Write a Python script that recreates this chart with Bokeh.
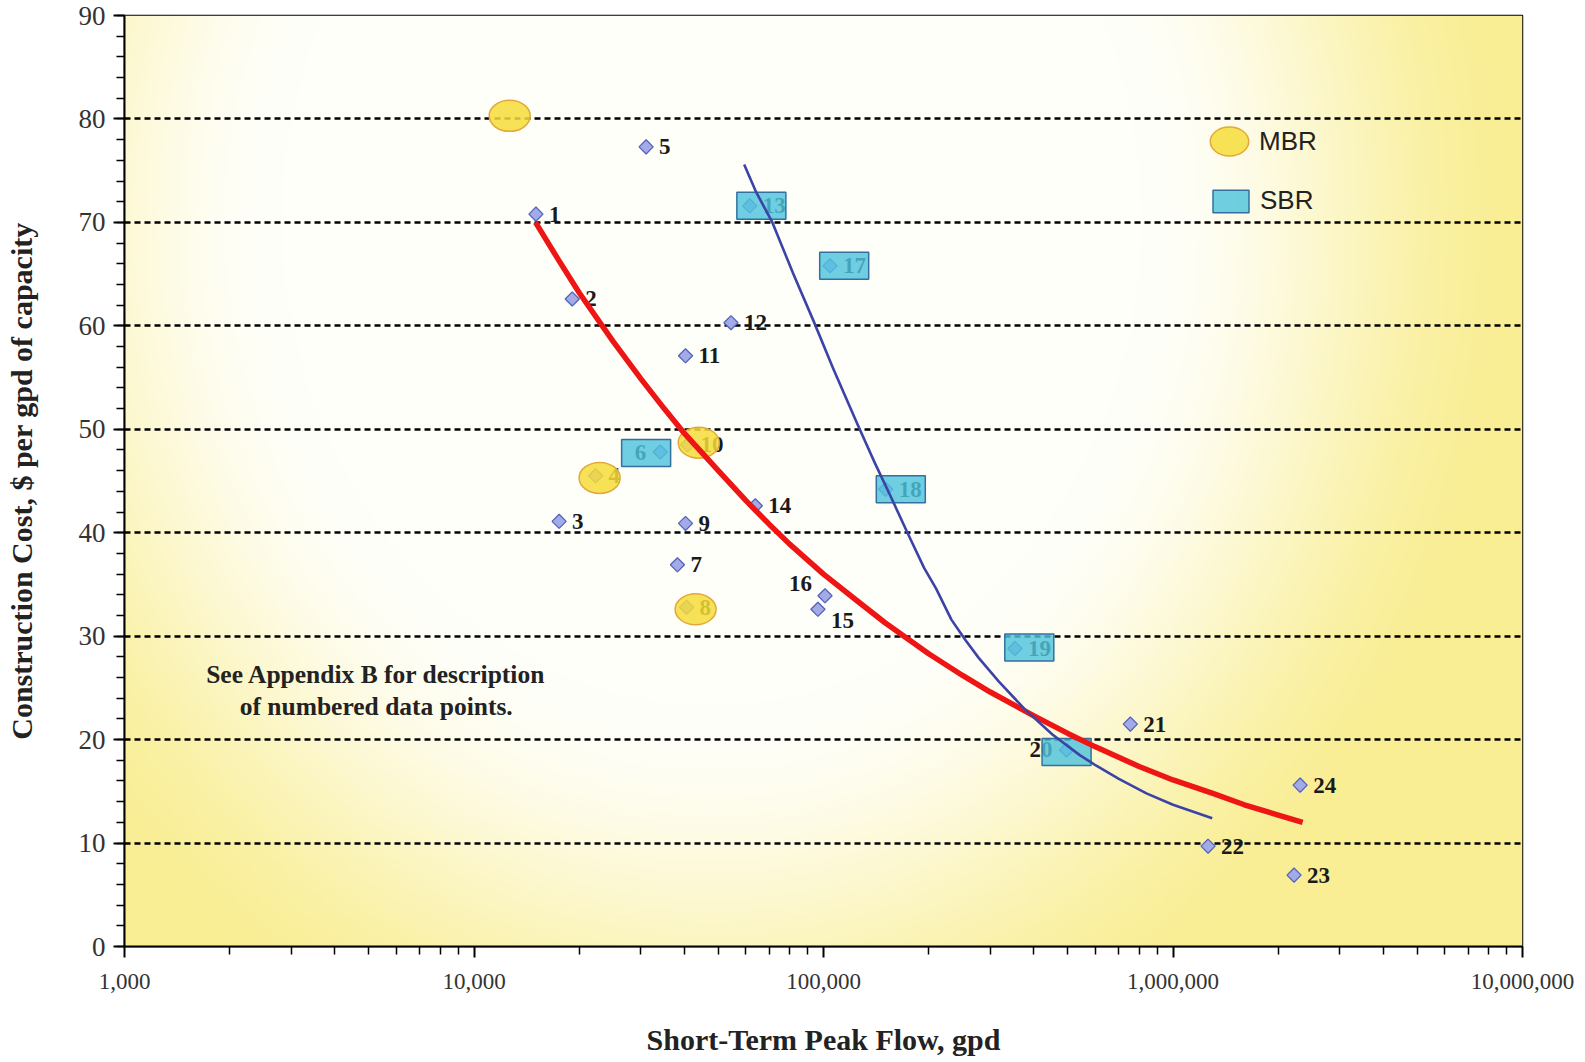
import numpy as np
from bokeh.plotting import figure
from bokeh.models import ColumnDataSource, FixedTicker, Legend, LegendItem, Label
from bokeh.embed import file_html
from bokeh.resources import INLINE
from bokeh.core.properties import value

# ---------------- data ----------------
point_labels = [str(i) for i in range(1, 25)]
point_flow = [15040, 19100, 17520, 22280, 31080, 34100, 38200, 40560, 40290, 40830,
              40290, 54360, 61500, 63810, 96400, 101000, 104400, 150600, 353000, 496000,
              755000, 1260000, 2220000, 2311000]
point_cost = [70.8, 62.6, 41.1, 45.5, 77.3, 47.8, 36.9, 32.8, 40.9, 48.5,
              57.1, 60.3, 71.6, 42.6, 32.6, 33.9, 65.8, 44.2, 28.8, 19.0,
              21.5, 9.7, 6.9, 15.6]

mbr_flow = [12650, 22880, 43060, 43950]
mbr_cost = [80.3, 45.3, 32.6, 48.7]

sbr_flow = [31080, 66400, 114600, 166400, 388000, 496000]
sbr_cost = [47.7, 71.6, 65.8, 44.2, 28.9, 18.8]

# trend curve for all plants (red)
trend_all_flow = [15000, 17500, 20000, 25000, 30000, 35000, 40000, 50000, 60000, 70000,
                  80000, 100000, 125000, 150000, 200000, 250000, 300000, 400000, 500000,
                  600000, 800000, 1000000, 1300000, 1600000, 2000000, 2350000]
trend_all_cost = [70.0, 66.3, 63.2, 58.5, 54.9, 52.0, 49.6, 46.0, 43.1, 40.8,
                  38.9, 36.0, 33.4, 31.3, 28.3, 26.2, 24.6, 22.3, 20.6,
                  19.3, 17.4, 16.1, 14.8, 13.7, 12.7, 12.0]

# trend curve for SBR plants (blue)
trend_sbr_flow = [59300, 64000, 71400, 82000, 93300, 106500, 125000, 140000, 155700,
                  174400, 194000, 210000, 232200, 255000, 278000, 317600, 377600, 451800,
                  541000, 601700, 700000, 839500, 1000000, 1295000]
trend_sbr_cost = [75.6, 73.0, 70.0, 65.0, 60.6, 55.9, 50.5, 46.8, 43.5,
                  39.9, 36.6, 34.6, 31.6, 29.6, 27.9, 25.6, 22.9, 20.5,
                  18.5, 17.5, 16.2, 14.8, 13.7, 12.4]

x_ticks = [1000, 10000, 100000, 1000000, 10000000]
x_tick_labels = ["1,000", "10,000", "100,000", "1,000,000", "10,000,000"]
y_ticks = [0, 10, 20, 30, 40, 50, 60, 70, 80, 90]

# ---------------- styles ----------------
label_style = {"6": ("right", -14, 0), "20": ("right", -14, 0),
               "16": ("right", -13, -12), "15": ("left", 13, 11)}

SERIF = "Liberation Serif"

p = figure(width=1580, height=1060, x_axis_type="log",
           x_range=(1000, 10000000), y_range=(0, 90),
           output_backend="svg", toolbar_location=None,
           min_border_left=124, min_border_right=58,
           min_border_top=15, min_border_bottom=114)
p.background_fill_color = "white"
p.border_fill_color = "white"
p.outline_line_color = "black"
p.outline_line_width = 1.5

# background gradient (white centre, yellow edges)
H, W = 300, 460
u = np.linspace(0, 1, W)[None, :]
vt = np.linspace(1, 0, H)[:, None]  # distance from top, row 0 = bottom
r = np.sqrt(((u - 0.42) / 0.56) ** 2 + ((vt - 0.22) / 0.95) ** 2)
t = np.clip((r - 0.55) / 0.5, 0, 1)
t = t * t * (3 - 2 * t)
white = np.array([255, 255, 250])
yellow = np.array([249, 238, 148])
img = np.empty((H, W), dtype=np.uint32)
view = img.view(dtype=np.uint8).reshape((H, W, 4))
for k in range(3):
    view[:, :, k] = (white[k] + (yellow[k] - white[k]) * t).astype(np.uint8)
view[:, :, 3] = 255
p.image_rgba(image=[img], x=x_ticks[0], y=y_ticks[0],
             dw=x_ticks[-1] - x_ticks[0], dh=y_ticks[-1] - y_ticks[0], level="image")

# grid
p.xgrid.visible = False
p.ygrid.ticker = FixedTicker(ticks=y_ticks[1:])
p.ygrid.grid_line_color = "black"
p.ygrid.grid_line_width = 2.5
p.ygrid.grid_line_dash = "6 4"

# axes
minor_x = [m * 10 ** k for k in range(3, 7) for m in range(2, 10)]
p.xaxis.ticker = FixedTicker(ticks=x_ticks, minor_ticks=minor_x)
p.xaxis.major_label_overrides = {tk: lb for tk, lb in zip(x_ticks, x_tick_labels)}
p.yaxis.ticker = FixedTicker(ticks=y_ticks, minor_ticks=list(range(0, 91, 2)))

for ax in (p.xaxis, p.yaxis):
    ax.axis_line_color = "black"
    ax.axis_line_width = 2
    ax.major_tick_line_color = "black"
    ax.major_tick_line_width = 2
    ax.minor_tick_line_color = "black"
    ax.minor_tick_line_width = 1.5
    ax.major_tick_in = 0
    ax.major_tick_out = 11
    ax.minor_tick_in = 0
    ax.minor_tick_out = 8
    ax.major_label_text_font = SERIF
    ax.major_label_text_color = "#333333"
    ax.axis_label_text_font = SERIF
    ax.axis_label_text_font_style = "bold"
    ax.axis_label_text_color = "#222222"
    ax.axis_label_text_font_size = "30px"

p.xaxis.major_label_text_font_size = "23px"
p.yaxis.major_label_text_font_size = "27px"
p.xaxis.major_label_standoff = 16
p.yaxis.major_label_standoff = 8
p.xaxis.axis_label = "Short-Term Peak Flow, gpd"
p.yaxis.axis_label = "Construction Cost, $ per gpd of capacity"
p.xaxis.axis_label_standoff = 31
p.yaxis.axis_label_standoff = 38

# numbered data points
pts = ColumnDataSource(dict(x=point_flow, y=point_cost, label=point_labels))
p.scatter("x", "y", source=pts, marker="square", angle=np.pi / 4, size=10,
          fill_color="#a3aae8", line_color="#5563b8", line_width=1.3)

groups = {"left": dict(x=[], y=[], label=[], xo=[], yo=[]),
          "right": dict(x=[], y=[], label=[], xo=[], yo=[])}
for fx, cy, lb in zip(point_flow, point_cost, point_labels):
    al, xo, yo = label_style.get(lb, ("left", 13, 0))
    g = groups[al]
    g["x"].append(fx); g["y"].append(cy); g["label"].append(lb)
    g["xo"].append(xo); g["yo"].append(yo)
for al, g in groups.items():
    p.text("x", "y", text="label", source=ColumnDataSource(g), x_offset="xo", y_offset="yo",
           text_align=al, text_baseline="middle", text_font=value(SERIF),
           text_font_style="bold", text_font_size="23px", text_color="#1a1a1a")

# technology markers
mbr = p.ellipse(mbr_flow, mbr_cost, width=41, height=31, width_units="screen",
                height_units="screen", fill_color="#f6dc3a", fill_alpha=0.85,
                line_color="#e2a93a", line_width=1.5)
sbr = p.rect(sbr_flow, sbr_cost, width=49, height=27, width_units="screen",
             height_units="screen", fill_color="#4fc3dc", fill_alpha=0.82,
             line_color="#34709f", line_width=1.5)

# trend curves
p.line(trend_all_flow, trend_all_cost, line_color="#ee1515", line_width=5.5,
       line_join="round")
p.line(trend_sbr_flow, trend_sbr_cost, line_color="#3b44a6", line_width=2.6,
       line_join="round")

common = dict(background_fill_alpha=0, border_line_alpha=0, padding=0, margin=0,
              label_text_font="Liberation Sans", label_text_font_size="26px",
              label_text_color="#222222")
leg_mbr = Legend(items=[LegendItem(label="MBR", renderers=[mbr])],
                 location=(1081, 781), glyph_width=48, glyph_height=48,
                 label_height=48, label_standoff=6, **common)
leg_sbr = Legend(items=[LegendItem(label="SBR", renderers=[sbr])],
                 location=(1084, 730), glyph_width=45, glyph_height=28,
                 label_height=28, label_standoff=7, **common)
p.add_layout(leg_mbr)
p.add_layout(leg_sbr)

note1 = Label(x=5250, y=26.3, text="See Appendix B for description", text_align="center",
              text_baseline="middle", text_font=SERIF, text_font_style="bold",
              text_font_size="25.5px", text_color="#222222")
note2 = Label(x=5250, y=23.2, text="of numbered data points.", text_align="center",
              text_baseline="middle", text_font=SERIF, text_font_style="bold",
              text_font_size="25.5px", text_color="#222222")
p.add_layout(note1)
p.add_layout(note2)

open("out.html", "w").write(file_html(p, INLINE))
